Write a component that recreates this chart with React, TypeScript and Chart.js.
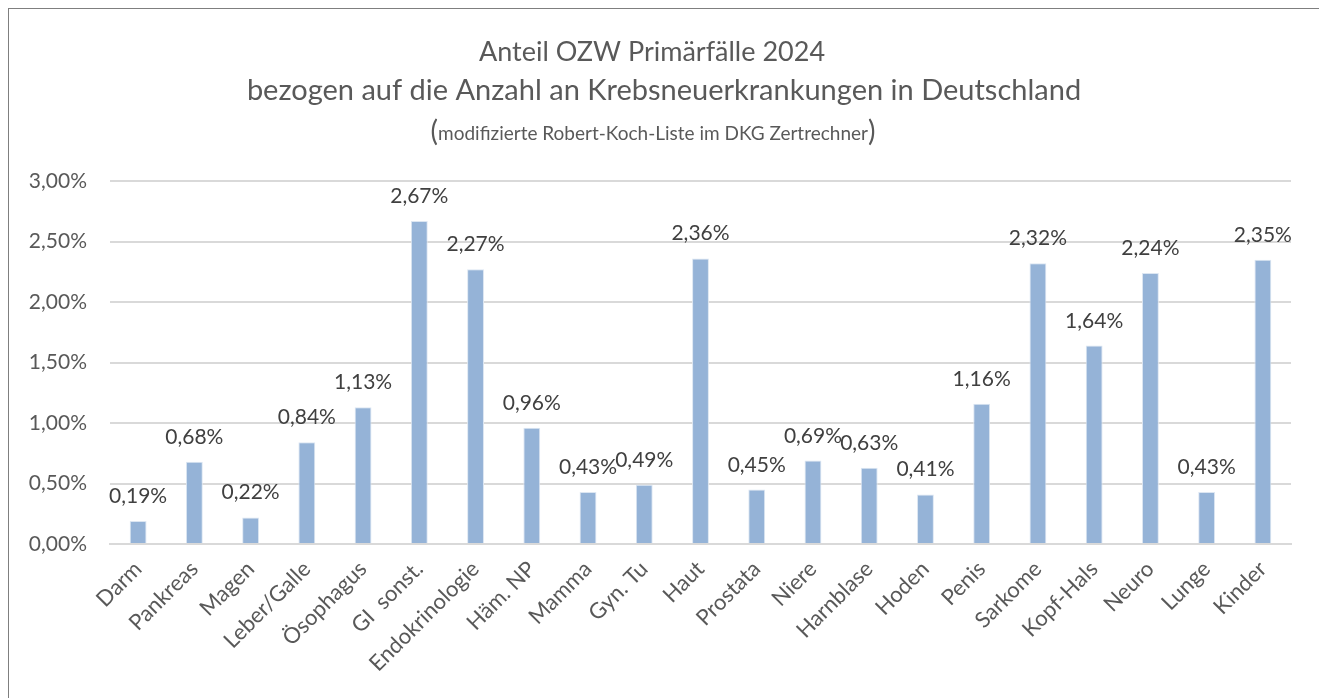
import React, { useEffect, useRef } from "react";
import { Chart, registerables } from "chart.js";

Chart.register(...registerables);

const categories: string[] = [
  "Darm", "Pankreas", "Magen", "Leber/Galle", "Ösophagus", "GI  sonst.", "Endokrinologie",
  "Häm. NP", "Mamma", "Gyn. Tu", "Haut", "Prostata", "Niere", "Harnblase", "Hoden",
  "Penis", "Sarkome", "Kopf-Hals", "Neuro", "Lunge", "Kinder",
];
const shares: number[] = [
  0.19, 0.68, 0.22, 0.84, 1.13, 2.67, 2.27, 0.96, 0.43, 0.49, 2.36, 0.45, 0.69, 0.63, 0.41,
  1.16, 2.32, 1.64, 2.24, 0.43, 2.35,
];
const titleLine1 = "Anteil OZW Primärfälle 2024";
const titleLine2 = "bezogen auf die Anzahl an Krebsneuerkrankungen in Deutschland";
const titleLine3 = "modifizierte Robert-Koch-Liste im DKG Zertrechner";
const yTicks: number[] = [0, 0.5, 1, 1.5, 2, 2.5, 3];

const FONT = "Lato, 'Open Sans', sans-serif";
const fmt = (v: number) => v.toFixed(2).replace(".", ",") + "%";

const titlePlugin = {
  id: "customTitle",
  afterDraw(chart: any) {
    const ctx = chart.ctx;
    ctx.save();
    ctx.fillStyle = "#595959";
    ctx.textBaseline = "alphabetic";
    ctx.textAlign = "center";
    ctx.font = `27px ${FONT}`;
    ctx.fillText(titleLine1, 643, 52);
    ctx.font = `29px ${FONT}`;
    ctx.fillText(titleLine2, 655, 91);
    // third line: small text with larger parentheses
    ctx.font = `19px ${FONT}`;
    const mid = ctx.measureText(titleLine3).width;
    ctx.font = `28px ${FONT}`;
    const pw = ctx.measureText("(").width;
    const total = mid + 2 * pw;
    let x = 644 - total / 2;
    ctx.textAlign = "left";
    ctx.fillText("(", x, 132);
    x += pw;
    ctx.font = `19px ${FONT}`;
    ctx.fillText(titleLine3, x, 131);
    x += mid;
    ctx.font = `28px ${FONT}`;
    ctx.fillText(")", x, 132);
    ctx.restore();
  },
};

const valueLabelPlugin = {
  id: "valueLabels",
  afterDatasetsDraw(chart: any) {
    const ctx = chart.ctx;
    const meta = chart.getDatasetMeta(0);
    ctx.save();
    ctx.fillStyle = "#404040";
    ctx.font = `21px ${FONT}`;
    ctx.textAlign = "center";
    ctx.textBaseline = "alphabetic";
    meta.data.forEach((bar: any, i: number) => {
      ctx.fillText(fmt(shares[i]), bar.x, bar.y - 18);
    });
    ctx.restore();
  },
};

export default function App() {
  const ref = useRef<HTMLCanvasElement | null>(null);
  useEffect(() => {
    document.documentElement.style.overflow = "hidden";
    document.body.style.overflow = "hidden";
    const canvas = ref.current;
    if (!canvas) return;
    const chart = new Chart(canvas, {
      type: "bar",
      data: {
        labels: categories,
        datasets: [
          {
            data: shares,
            backgroundColor: "#95B3D7",
            borderColor: "#DCE6F2",
            borderWidth: 1,
            categoryPercentage: 1,
            barPercentage: 0.3,
          },
        ],
      },
      options: {
        animation: false,
        responsive: false,
        maintainAspectRatio: false,
        layout: { padding: { top: 172, right: 30, left: 0, bottom: 0 } },
        plugins: {
          legend: { display: false },
          title: { display: false },
          tooltip: { enabled: false },
        },
        scales: {
          x: {
            grid: { display: false, drawTicks: false },
            border: { display: true, color: "#D9D9D9", width: 2 },
            ticks: {
              color: "#595959",
              font: { family: FONT, size: 22 },
              minRotation: 45,
              maxRotation: 45,
              autoSkip: false,
              padding: 12,
            },
            afterFit(scale: any) {
              scale.height = 700 - 535;
            },
          },
          y: {
            min: 0,
            max: 3,
            afterBuildTicks(scale: any) {
              scale.ticks = yTicks.map((v) => ({ value: v }));
            },
            grid: { color: "#D9D9D9", lineWidth: 2, drawTicks: false },
            border: { display: false },
            ticks: {
              color: "#595959",
              font: { family: FONT, size: 21 },
              padding: 23,
              callback: (v: any) => fmt(Number(v)),
            },
            afterFit(scale: any) {
              scale.width = 101;
            },
          },
        },
      },
      plugins: [titlePlugin, valueLabelPlugin],
    });
    return () => chart.destroy();
  }, []);
  return (
    <div
      style={{
        width: 1312,
        height: 700,
        border: "1px solid #7F7F7F",
        background: "#fff",
        overflow: "hidden",
      }}
    >
      <canvas ref={ref} width={1312} height={700} style={{ display: "block" }} />
    </div>
  );
}
